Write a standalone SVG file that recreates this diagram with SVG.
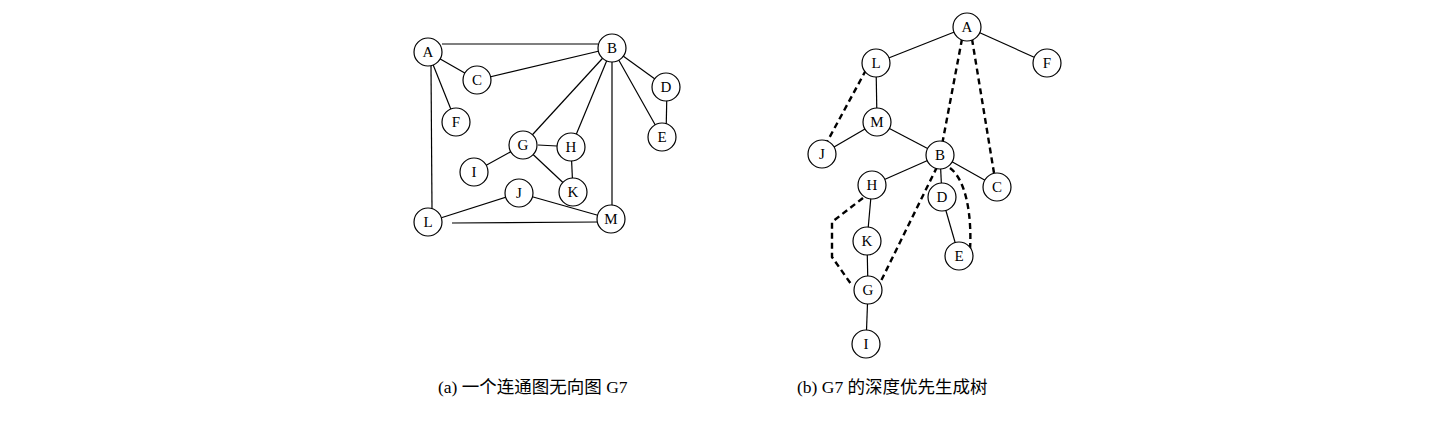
<svg xmlns="http://www.w3.org/2000/svg" width="1447" height="435" viewBox="0 0 1447 435">
<style>
.e{stroke:#000;stroke-width:1.2;fill:none}
.d{stroke:#000;stroke-width:2.4;fill:none;stroke-dasharray:6,4}
.n circle{fill:#fff;stroke:#000;stroke-width:1.2}
.n text{font-family:"Liberation Serif","Times New Roman",serif;font-size:15px;text-anchor:middle;dominant-baseline:central;fill:#000}
.cap{font-family:"Liberation Serif","Noto Sans CJK SC",serif;font-size:17.5px;fill:#000}
</style>
<rect width="1447" height="435" fill="#fff"/>
<g id="connectors">
<!-- left graph -->
<line class="e" x1="442" y1="44" x2="598" y2="44"/>
<line class="e" x1="428" y1="52" x2="477" y2="80"/>
<line class="e" x1="428" y1="52" x2="456" y2="122"/>
<line class="e" x1="431" y1="66" x2="432" y2="210"/>
<line class="e" x1="477" y1="80" x2="612" y2="48"/>
<line class="e" x1="612" y1="48" x2="523" y2="145"/>
<line class="e" x1="612" y1="48" x2="571" y2="147"/>
<line class="e" x1="612" y1="62" x2="612" y2="206"/>
<line class="e" x1="612" y1="48" x2="666" y2="87"/>
<line class="e" x1="612" y1="48" x2="662" y2="137"/>
<line class="e" x1="667" y1="87" x2="666" y2="137"/>
<line class="e" x1="538" y1="145" x2="557" y2="146"/>
<line class="e" x1="523" y1="145" x2="474" y2="172"/>
<line class="e" x1="523" y1="145" x2="573" y2="192"/>
<line class="e" x1="571" y1="147" x2="573" y2="192"/>
<line class="e" x1="519" y1="193" x2="428" y2="222"/>
<line class="e" x1="519" y1="193" x2="611" y2="219"/>
<line class="e" x1="452" y1="223" x2="598" y2="222"/>
<!-- right tree solid -->
<line class="e" x1="967" y1="27" x2="876" y2="63"/>
<line class="e" x1="967" y1="27" x2="1047" y2="63"/>
<line class="e" x1="876" y1="63" x2="877" y2="122"/>
<line class="e" x1="877" y1="122" x2="822" y2="154"/>
<line class="e" x1="877" y1="122" x2="940" y2="155"/>
<line class="e" x1="940" y1="155" x2="872" y2="185"/>
<line class="e" x1="940" y1="155" x2="942" y2="197"/>
<line class="e" x1="940" y1="155" x2="997" y2="187"/>
<line class="e" x1="942" y1="197" x2="959" y2="256"/>
<line class="e" x1="872" y1="185" x2="867" y2="241"/>
<line class="e" x1="867" y1="241" x2="868" y2="290"/>
<line class="e" x1="868" y1="290" x2="866" y2="344"/>
<!-- right tree dashed -->
<line class="d" x1="962" y1="39" x2="942" y2="145"/>
<line class="d" x1="972" y1="39" x2="994" y2="173"/>
<line class="d" x1="866" y1="70" x2="827" y2="142"/>
<line class="d" x1="937" y1="167" x2="880" y2="283"/>
<path class="d" d="M950,168 C966,180 972,215 970,250"/>
<path class="d" d="M863,198 L832,222 L832,257 L851,284"/>
</g>
<g id="nA" class="n"><circle cx="428" cy="52" r="14"/><text x="428" y="52">A</text></g>
<g id="nB" class="n"><circle cx="612" cy="48" r="14"/><text x="612" y="48">B</text></g>
<g id="nC" class="n"><circle cx="477" cy="80" r="14"/><text x="477" y="80">C</text></g>
<g id="nD" class="n"><circle cx="666" cy="87" r="14"/><text x="666" y="87">D</text></g>
<g id="nE" class="n"><circle cx="662" cy="137" r="14"/><text x="662" y="137">E</text></g>
<g id="nF" class="n"><circle cx="456" cy="122" r="14"/><text x="456" y="122">F</text></g>
<g id="nG" class="n"><circle cx="523" cy="145" r="14"/><text x="523" y="145">G</text></g>
<g id="nH" class="n"><circle cx="571" cy="147" r="14"/><text x="571" y="147">H</text></g>
<g id="nI" class="n"><circle cx="474" cy="172" r="14"/><text x="474" y="172">I</text></g>
<g id="nJ" class="n"><circle cx="519" cy="193" r="14"/><text x="519" y="193">J</text></g>
<g id="nK" class="n"><circle cx="573" cy="192" r="14"/><text x="573" y="192">K</text></g>
<g id="nL" class="n"><circle cx="428" cy="222" r="14"/><text x="428" y="222">L</text></g>
<g id="nM" class="n"><circle cx="611" cy="219" r="14"/><text x="611" y="219">M</text></g>
<g id="tA" class="n"><circle cx="967" cy="27" r="14"/><text x="967" y="27">A</text></g>
<g id="tL" class="n"><circle cx="876" cy="63" r="14"/><text x="876" y="63">L</text></g>
<g id="tF" class="n"><circle cx="1047" cy="63" r="14"/><text x="1047" y="63">F</text></g>
<g id="tM" class="n"><circle cx="877" cy="122" r="14"/><text x="877" y="122">M</text></g>
<g id="tJ" class="n"><circle cx="822" cy="154" r="14"/><text x="822" y="154">J</text></g>
<g id="tB" class="n"><circle cx="940" cy="155" r="14"/><text x="940" y="155">B</text></g>
<g id="tC" class="n"><circle cx="997" cy="187" r="14"/><text x="997" y="187">C</text></g>
<g id="tH" class="n"><circle cx="872" cy="185" r="14"/><text x="872" y="185">H</text></g>
<g id="tD" class="n"><circle cx="942" cy="197" r="14"/><text x="942" y="197">D</text></g>
<g id="tK" class="n"><circle cx="867" cy="241" r="14"/><text x="867" y="241">K</text></g>
<g id="tE" class="n"><circle cx="959" cy="256" r="14"/><text x="959" y="256">E</text></g>
<g id="tG" class="n"><circle cx="868" cy="290" r="14"/><text x="868" y="290">G</text></g>
<g id="tI" class="n"><circle cx="866" cy="344" r="14"/><text x="866" y="344">I</text></g>
<text class="cap" x="438" y="393">(a)  一个连通图无向图 G7</text>
<text class="cap" x="797" y="393">(b) G7 的深度优先生成树</text>
</svg>
